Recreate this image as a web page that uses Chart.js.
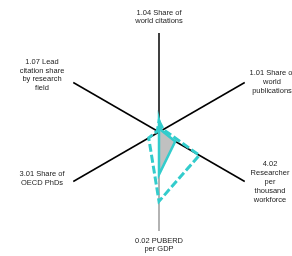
<!DOCTYPE html>
<html>
<head>
<meta charset="utf-8">
<script src="https://cdn.jsdelivr.net/npm/chart.js@4/dist/chart.umd.min.js"></script>
<style>
html,body{margin:0;padding:0;background:#fff;}
#wrap{position:relative;width:292px;height:256px;}
</style>
</head>
<body>
<div id="wrap"><canvas id="c"></canvas></div>
<script>
const categories = [
  ["1.04 Share of", "world citations"],
  ["1.01 Share of", "world", "publications"],
  ["4.02", "Researcher", "per", "thousand", "workforce"],
  ["0.02 PUBERD", "per GDP"],
  ["3.01 Share of", "OECD PhDs"],
  ["1.07 Lead", "citation share", "by research", "field"]
];
const seriesFilled = [0.12, 0.03, 0.19, 0.43, 0, 0];
const seriesDashed = [0.11, 0.05, 0.47, 0.70, 0.12, 0.02];

// label anchor: [centerX, firstLineY] per category
const labelAnchors = [[159, 12.5], [272, 73], [270, 164], [159, 240.5], [42, 174], [42, 62]];
const lineGap = [8.5, 9, 9, 8.5, 9, 8.5];

const labelPlugin = {
  id: 'labels',
  afterDraw(chart) {
    const ctx = chart.ctx;
    ctx.save();
    ctx.font = '7.5px "Liberation Sans", Arial, sans-serif';
    ctx.fillStyle = '#222';
    ctx.textAlign = 'center';
    ctx.textBaseline = 'middle';
    categories.forEach((lines, i) => {
      const [x, y] = labelAnchors[i];
      lines.forEach((t, j) => ctx.fillText(t, x, y + j * lineGap[i]));
    });
    ctx.restore();
  }
};

new Chart(document.getElementById('c'), {
  type: 'radar',
  data: {
    labels: categories,
    datasets: [
      {
        data: seriesFilled,
        backgroundColor: 'rgba(192,192,192,1)',
        borderColor: '#33CCCC',
        borderWidth: 2.5,
        pointRadius: 0,
        fill: true,
        order: 0
      },
      {
        data: seriesDashed,
        backgroundColor: 'rgba(0,0,0,0)',
        borderColor: '#33CCCC',
        borderWidth: 3,
        borderDash: [8, 3],
        pointRadius: 0,
        fill: false,
        order: 1
      }
    ]
  },
  options: {
    responsive: true,
    maintainAspectRatio: false,
    animation: false,
    layout: { padding: { left: 60, right: 34, top: 33, bottom: 25 } },
    plugins: { legend: { display: false }, tooltip: { enabled: false } },
    elements: { line: { tension: 0 } },
    scales: {
      r: {
        min: 0,
        max: 1,
        ticks: { display: false },
        grid: { display: false },
        pointLabels: { display: false },
        angleLines: {
          display: true,
          color: (ctx) => ctx.index === 3 ? '#808080' : '#000',
          lineWidth: (ctx) => ctx.index === 3 ? 1.2 : 1.5
        }
      }
    }
  },
  plugins: [labelPlugin]
});
</script>
</body>
</html>
